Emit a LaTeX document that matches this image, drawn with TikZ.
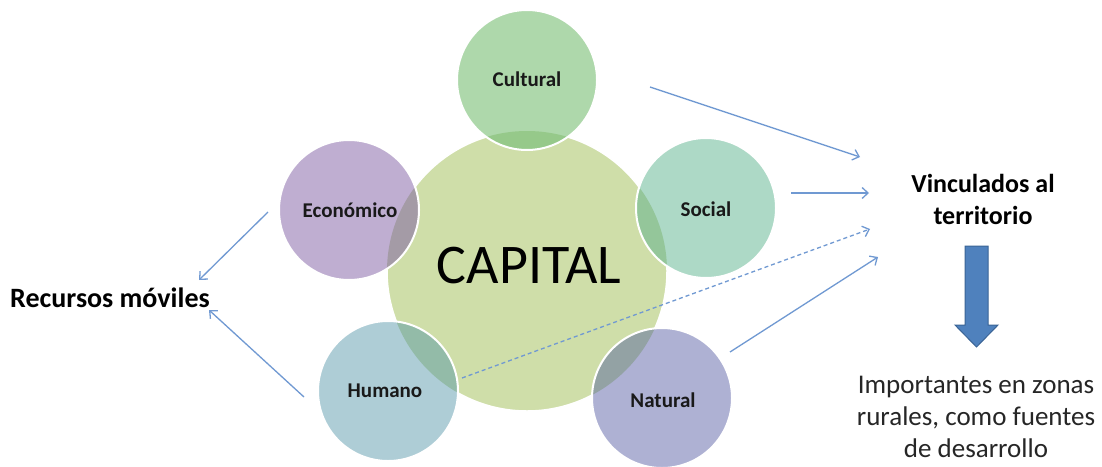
\documentclass[tikz,border=0pt]{standalone}
\usepackage{fontspec}
\setmainfont{Carlito}
\usetikzlibrary{arrows.meta}
\definecolor{capfill}{HTML}{CFDEA9}
\definecolor{culfill}{HTML}{AED8AB}
\definecolor{culover}{HTML}{96C98A}
\definecolor{socfill}{HTML}{ADD9C6}
\definecolor{socover}{HTML}{94C69A}
\definecolor{natfill}{HTML}{AEB1D3}
\definecolor{natover}{HTML}{93A2A4}
\definecolor{humfill}{HTML}{AECDD6}
\definecolor{humover}{HTML}{93BBA8}
\definecolor{ecofill}{HTML}{BFAED1}
\definecolor{ecoover}{HTML}{A49BA6}
\definecolor{linkblue}{HTML}{7099D2}
\definecolor{blockblue}{HTML}{4F81BD}
\definecolor{blockdark}{HTML}{3A6496}
\tikzset{
  sat/.style={circle, minimum size=140pt, inner sep=0pt},
  satlabel/.style={font=\fontsize{21}{24}\selectfont\bfseries, text=black!90, inner sep=0pt},
  sideText/.style={font=\fontsize{26}{32}\selectfont\bfseries, align=center, inner sep=0pt},
  plainText/.style={font=\fontsize{27}{32}\selectfont, align=center, inner sep=0pt, text=black!85},
  link/.style={draw=linkblue, line width=1.3pt, -{Straight Barb[length=6pt,width=11pt]}},
  ring/.style={draw=white, line width=2pt},
}
\newcommand{\satellite}[4]{%
  \node[sat, fill=#3] (#1) at (#2) {};
  \begin{scope}
    \clip (capital.center) circle[radius=140pt];
    \fill[#4] (#1.center) circle[radius=70pt];
  \end{scope}
  \draw[ring] (#1.center) circle[radius=70pt];
}
\begin{document}
\begin{tikzpicture}[x=1pt,y=-1pt]
\useasboundingbox[fill=white] (0,0) rectangle (1102,466);
% centre
\node[circle, minimum size=280pt, inner sep=0pt, fill=capfill, draw=white, line width=1.5pt] (capital) at (527,271) {};
\node[font=\fontsize{56}{60}\selectfont, inner sep=0pt] (captext) at (529,266) {CAPITAL};
% satellites
\satellite{cult}{527,80}{culfill}{culover}
\satellite{soc}{706,208}{socfill}{socover}
\satellite{nat}{662,398}{natfill}{natover}
\satellite{hum}{388,391}{humfill}{humover}
\satellite{eco}{349,210}{ecofill}{ecoover}
\node[satlabel] (cultT) at (527,79) {Cultural};
\node[satlabel] (socT) at (706,209) {Social};
\node[satlabel] (natT) at (663,400) {Natural};
\node[satlabel] (humT) at (385,391) {Humano};
\node[satlabel] (ecoT) at (350,210) {Económico};
% side texts
\node[sideText] (vinc) at (983,199) {Vinculados al\\territorio};
\node[sideText, font=\fontsize{28}{32}\selectfont\bfseries, anchor=west] (rec) at (10,298) {Recursos móviles};
\node[plainText] (imp) at (976,417) {Importantes en zonas\\rurales, como fuentes\\de desarrollo};
% block arrow
\fill[blockblue, draw=blockdark, line width=1pt] (965,246) -- (988,246) -- (988,325) -- (998,325) -- (976.5,347) -- (955,325) -- (965,325) -- cycle;
% connector end points
\coordinate (c1s) at (650,87);  \coordinate (c1e) at (860,157);
\coordinate (c2s) at (791,193); \coordinate (c2e) at (869,193);
\coordinate (c3s) at (462,378); \coordinate (c3e) at (870,229);
\coordinate (c4s) at (730,352); \coordinate (c4e) at (878,257);
\coordinate (c5s) at (268,212); \coordinate (c5e) at (199,280);
\coordinate (c6s) at (304,397); \coordinate (c6e) at (209,310);
\draw[link] (c1s) -- (c1e);
\draw[link] (c2s) -- (c2e);
\draw[link, dash pattern=on 4pt off 3pt] (c3s) -- (c3e);
\draw[link] (c4s) -- (c4e);
\draw[link] (c5s) -- (c5e);
\draw[link] (c6s) -- (c6e);
\end{tikzpicture}
\end{document}
